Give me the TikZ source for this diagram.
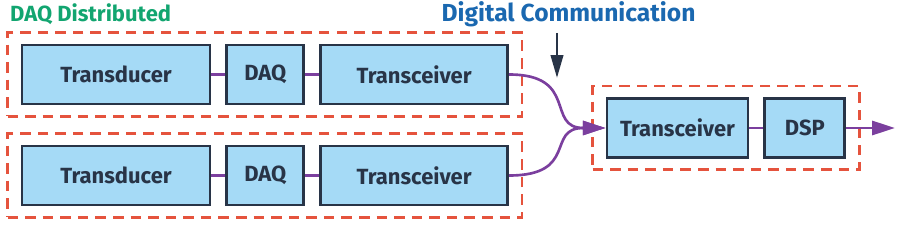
\documentclass[tikz,border=0pt]{standalone}
\usepackage{fontspec}
\setmainfont{Fira Sans}
\usetikzlibrary{arrows.meta, positioning, fit}
\definecolor{boxfill}{HTML}{A5DAF6}
\definecolor{navy}{HTML}{283447}
\definecolor{dashred}{HTML}{E5533D}
\definecolor{linkpurple}{HTML}{7B3F9E}
\definecolor{labgreen}{HTML}{12A570}
\definecolor{labblue}{HTML}{1A68B0}

\begin{document}
\begin{tikzpicture}[font=\bfseries\fontsize{12.5}{14}\selectfont, node distance=0.28cm,
    blk/.style={draw=navy, fill=boxfill, line width=1.6pt, text=navy, minimum height=1.18cm, inner sep=0pt},
    grp/.style={draw=dashred, line width=1.6pt, dash pattern=on 6pt off 4pt, inner xsep=0.26cm, inner ysep=0.22cm},
    link/.style={draw=linkpurple, line width=1.5pt},
    tip/.style={-{Triangle[length=13pt, width=8pt]}}]
    \useasboundingbox (0,0) rectangle (18,4.5);
    % top chain
    \node[blk, minimum width=3.76cm] (td1) at (2.32,3.01) {Transducer};
    \node[blk, minimum width=1.54cm, right=of td1] (daq1) {DAQ};
    \node[blk, minimum width=3.74cm, right=of daq1] (tr1) {Transceiver};
    % bottom chain
    \node[blk, minimum width=3.76cm] (td2) at (2.32,0.99) {Transducer};
    \node[blk, minimum width=1.54cm, right=of td2] (daq2) {DAQ};
    \node[blk, minimum width=3.74cm, right=of daq2] (tr2) {Transceiver};
    % receiving side
    \node[blk, minimum width=2.82cm] (tr3) at (13.55,1.94) {Transceiver};
    \node[blk, minimum width=1.6cm, right=of tr3] (dsp) {DSP};
    \coordinate (out) at (17.9,1.94);
    % dashed groups
    \node[grp, fit=(td1)(tr1)] (g1) {};
    \node[grp, fit=(td2)(tr2)] (g2) {};
    \node[grp, fit=(tr3)(dsp)] (g3) {};
    % links
    \draw[link] (td1) -- (daq1);
    \draw[link] (daq1) -- (tr1);
    \draw[link] (td2) -- (daq2);
    \draw[link] (daq2) -- (tr2);
    \draw[link] (tr3) -- (dsp);
    \draw[link, tip] (tr1.east) .. controls +(1.4,0) and +(-1.2,0) .. (tr3.west);
    \draw[link, tip] (tr2.east) .. controls +(1.4,0) and +(-1.2,0) .. (tr3.west);
    \draw[link, tip] (dsp) -- (out);
    % labels
    \node[text=labgreen, anchor=west, font=\bfseries\fontsize{12.5}{14}\selectfont] (lbl1) at (0.08,4.22) {DAQ Distributed};
    \node[text=labblue, font=\bfseries\fontsize{14}{16}\selectfont] (lbl2) at (11.37,4.22) {Digital Communication};
    \coordinate (dc) at (11.14,2.94);
    \draw[navy, line width=1.6pt, -{Triangle[length=13pt, width=7pt]}] (11.14,3.84) -- (dc);
\end{tikzpicture}
\end{document}
